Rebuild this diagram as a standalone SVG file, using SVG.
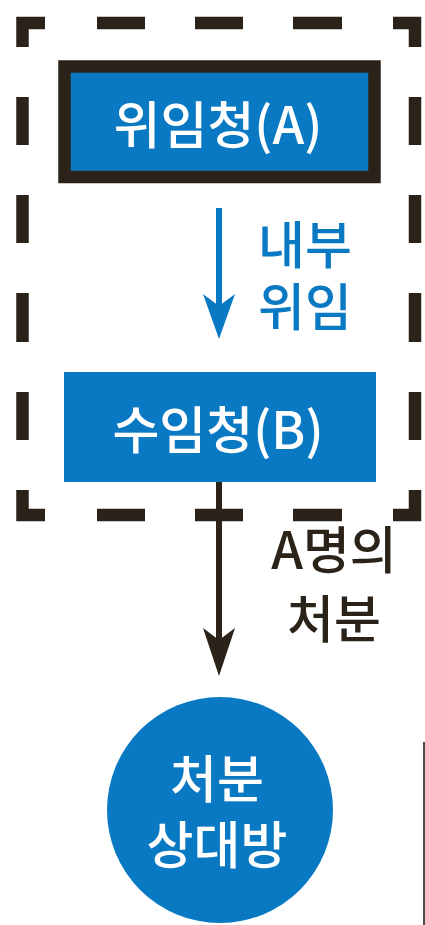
<svg xmlns="http://www.w3.org/2000/svg" width="425" height="925" viewBox="0 0 425 925">
<style>
.dash{fill:none;stroke:#2b2319;stroke-width:12.5;stroke-linecap:butt;stroke-linejoin:miter}
.blue{fill:#0a79c3}
.t{font-family:"Noto Sans CJK KR","Noto Sans",sans-serif;font-size:51px;font-weight:500;text-anchor:middle}
.w{fill:#ffffff}
.lb{fill:#0a79c3}
.lk{fill:#2b2319}
</style>
<rect width="425" height="925" fill="#ffffff"/>
<g id="group-boundary">
<path class="dash" d="M22.5,47 V23 H45"/>
<path class="dash" d="M97,23 H145 M195,23 H243 M293,23 H342"/>
<path class="dash" d="M393,23 H415 V47"/>
<path class="dash" d="M22.5,97 V145 M22.5,195 V243 M22.5,293 V342 M22.5,392 V440"/>
<path class="dash" d="M415,97 V145 M415,195 V243 M415,293 V342 M415,392 V440"/>
<path class="dash" d="M22.5,490 V515 H45"/>
<path class="dash" d="M97,515 H145 M195,515 H243 M293,515 H342"/>
<path class="dash" d="M393,515 H415 V490"/>
</g>
<g id="connectors">
<line x1="219" y1="208" x2="219" y2="310" stroke="#0a79c3" stroke-width="6"/>
<path d="M203,294 L219,339 L235,294 L219,306 Z" fill="#0a79c3"/>
<line x1="219" y1="482" x2="219" y2="640" stroke="#2b2319" stroke-width="6"/>
<path d="M203,628 L219,676 L235,628 L219,640 Z" fill="#2b2319"/>
<text class="t lb"><tspan x="305" y="264">내부</tspan><tspan x="305" y="326">위임</tspan></text>
<text class="t lk"><tspan x="334" y="569">A명의</tspan><tspan x="334" y="638">처분</tspan></text>
</g>
<g id="node-A">
<rect x="64.5" y="66.5" width="310" height="110.5" class="blue" stroke="#2b2319" stroke-width="12.5"/>
<text class="t w" x="218" y="144" font-size="52">위임청(A)</text>
</g>
<g id="node-B">
<rect x="64" y="372" width="312" height="110" class="blue"/>
<text class="t w" x="218" y="449" font-size="52">수임청(B)</text>
</g>
<g id="node-target">
<circle cx="220" cy="810" r="113" class="blue"/>
<text class="t w" font-size="52"><tspan x="217" y="798">처분</tspan><tspan x="217" y="864">상대방</tspan></text>
</g>
<line x1="424" y1="742" x2="424" y2="925" stroke="#111111" stroke-width="1.5"/>
</svg>
